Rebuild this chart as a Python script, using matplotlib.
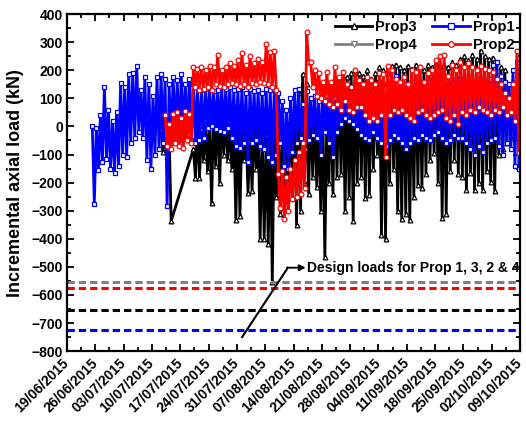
import numpy as np
import matplotlib
matplotlib.use("Agg")
import matplotlib.pyplot as plt
from matplotlib.ticker import MultipleLocator

plt.rcParams["font.family"] = ["Liberation Sans", "DejaVu Sans"]
plt.rcParams["font.weight"] = "bold"

# day 0 = 19/06/2015, one daily (high, low) pair per day, in kN
date_labels = ["19/06/2015", "26/06/2015", "03/07/2015", "10/07/2015", "17/07/2015",
               "24/07/2015", "31/07/2015", "07/08/2015", "14/08/2015", "21/08/2015",
               "28/08/2015", "04/09/2015", "11/09/2015", "18/09/2015", "25/09/2015",
               "02/10/2015", "09/10/2015"]

prop1_start = 6
prop1_hi = [0, -5, 40, 140, 60, 20, 50, 155, 140, 185,
            190, 215, 130, 175, 150, 110, 175, 185, 170, 150,
            175, 165, 185, 150, 170, 150, 140, 130, 135, 140,
            125, 130, 145, 135, 140, 130, 135, 140, 120, 135,
            125, 130, 120, 135, 130, 135, 120, 90, 60, 100,
            130, 135, 80, 125, 100, 110, 90, 125, 110, 120,
            100, 110, 120, 130, 140, 150, 130, 150, 160, 140,
            150, 160, 150, 140, 170, 180, 160, 150, 140, 160,
            150, 140, 150, 160, 140, 150, 160, 150, 140, 150,
            160, 170, 160, 150, 160, 150, 140, 150, 170, 220,
            230, 180, 160, 150, 200, 230]
prop1_lo = [-275, -155, -125, -115, -150, -165, -140, -100, -110, -60,
            -40, -20, -40, -120, -150, -100, -80, -60, -285, -60,
            -40, -50, -30, -40, -50, -60, -50, -40, -5, 0,
            -10, -15, -20, -5, -40, -70, -75, -60, -125, -60,
            -50, -70, -80, -110, -125, -100, -60, -140, -150, -90,
            -60, -40, -80, -50, -30, -40, -100, -20, -60, -110,
            -20, 10, 30, 20, 10, -10, -30, -40, -50, -20,
            -40, -60, -70, -50, -30, -40, -60, -80, -60, -40,
            -50, -30, -40, -50, -30, -20, -40, -60, -50, -30,
            -40, -40, -60, -80, -100, -70, -90, -60, -50, -40,
            -70, -100, -60, -80, -140, -150]

prop2_start = 24
prop2_hi = [40, 10, 45, 50, 30, 55, 45, 210, 205, 210,
            200, 215, 210, 255, 200, 210, 225, 215, 235, 260,
            220, 250, 225, 240, 230, 295, 265, 270, -170, -160,
            -180, -150, -120, -90, -60, 335, 230, 200, 190, 160,
            195, 160, 210, 175, 195, 150, 140, 200, 165, 150,
            175, 165, 150, 190, 185, 215, 200, 170, 160, 175,
            150, 200, 195, 210, 160, 190, 200, 235, 250, 255,
            180, 220, 200, 230, 210, 225, 210, 200, 215, 205,
            200, 195, 170, 150, 120, 100, 150, 270]
prop2_lo = [-70, -80, -60, -70, -75, -50, -60, 140, 130, 135,
            140, 130, 150, 145, 140, 150, 155, 150, 145, 150,
            140, 155, 150, 160, 155, 150, 140, 130, -290, -330,
            -300, -260, -250, -240, -220, 230, 140, 110, 100, 90,
            80, 70, 80, 60, 90, 60, 50, 70, 70, 40,
            20, 30, 20, 40, -110, 40, 60, 50, 60, 40,
            30, 20, 50, 60, 40, 30, 40, 50, 60, 30,
            20, 40, 10, 50, 40, 60, 50, 70, 60, 50,
            40, 60, 50, 70, 40, 50, 20, -95]

nan = np.nan
prop3_start = 23
prop3_hi = [-10, -20, -30, nan, nan, nan, nan, nan, -80, 20,
            -10, 10, 30, 50, 70, 60, 40, 20, 10, 30,
            10, 0, -20, 20, 0, -10, -30, 20, 10, -20,
            0, -10, 20, 60, 120, 185, 150, 100, 60, 30,
            40, 50, 120, 160, 170, 180, 175, 190, 200, 190,
            180, 200, 170, 190, 210, 200, 190, 215, 220, 210,
            200, 215, 205, 220, 210, 200, 220, 210, 225, 215,
            220, 210, 230, 220, 240, 250, 235, 255, 240, 270,
            250, 240, 245, 230, 210, 200, 150, 160, 120]
prop3_lo = [-90, -110, -337, nan, nan, nan, nan, nan, -185, -185,
            -120, -160, -274, -140, -202, -100, -120, -150, -334, -320,
            -120, -238, -230, -150, -400, -400, -420, -555, -250, -310,
            -290, -200, -180, -350, -300, -200, -240, -180, -215, -300,
            -465, -200, -240, -180, -170, -300, -250, -335, -200, -180,
            -255, -245, -150, -100, -385, -400, -200, -150, -300, -330,
            -310, -334, -250, -210, -220, -168, -120, -95, -200, -325,
            -310, -160, -120, -168, -180, -226, -165, -226, -200, -225,
            -160, -197, -230, -100, -80, -60, -40, -30, 0]

prop4_start = 23
prop4_hi = [5, 0]
prop4_lo = [-30, -40]

# design loads (kN)
design_loads = {"Prop4": -555, "Prop2": -575, "Prop3": -655, "Prop1": -725}


def zigzag(start, hi, lo):
    days = np.arange(start, start + len(hi))
    x = np.column_stack([days + 0.25, days + 0.75]).ravel()
    y = np.column_stack([hi, lo]).ravel().astype(float)
    keep = ~np.isnan(y)
    return x[keep], y[keep]


fig = plt.figure(figsize=(5.26, 4.21), dpi=100)
ax = fig.add_axes([0.1274, 0.166, 0.8612, 0.8005])

style = dict(lw=2.0, ms=3.4, mfc="white", mew=0.9)
x4, y4 = zigzag(prop4_start, prop4_hi, prop4_lo)
l4, = ax.plot(x4, y4, color="#808080", marker="v", mec="#808080", label="Prop4", **style)
x3, y3 = zigzag(prop3_start, prop3_hi, prop3_lo)
l3, = ax.plot(x3, y3, color="black", marker="^", mec="black", label="Prop3", **style)
x1, y1 = zigzag(prop1_start, prop1_hi, prop1_lo)
l1, = ax.plot(x1, y1, color="#0000ff", marker="s", mec="#0000ff", label="Prop1", **style)
x2, y2 = zigzag(prop2_start, prop2_hi, prop2_lo)
l2, = ax.plot(x2, y2, color="#ff0000", marker="o", mec="#ff0000", label="Prop2", **style)

line_colors = {"Prop4": "#808080", "Prop2": "#ff0000", "Prop3": "black", "Prop1": "#0000ff"}
for name, val in design_loads.items():
    ax.axhline(val, color=line_colors[name], lw=2.2, dashes=(2.4, 1.3))

# annotation for the design loads
ax.plot([43.3, 54.6], [-750, -503], color="black", lw=1.5)
ax.annotate("", xy=(59.0, -503), xytext=(54.4, -503),
            arrowprops=dict(arrowstyle="-|>", color="black", lw=1.3,
                            mutation_scale=9, shrinkA=0, shrinkB=0))
ax.text(59.4, -503, "Design loads for Prop 1, 3, 2 & 4", va="center",
        ha="left", fontsize=10, fontweight="bold")

ax.set_xlim(0, 112)
ax.set_ylim(-800, 400)
ax.set_xticks(np.arange(0, 113, 7))
ax.set_xticklabels(date_labels, rotation=45, ha="right", va="center",
                   rotation_mode="anchor", fontsize=10, fontweight="bold")
ax.xaxis.set_minor_locator(MultipleLocator(3.5))
ax.yaxis.set_major_locator(MultipleLocator(100))
ax.yaxis.set_minor_locator(MultipleLocator(50))
for lab in ax.get_yticklabels():
    lab.set_fontsize(10)
    lab.set_fontweight("bold")
ax.set_ylabel("Incremental axial load (kN)", fontsize=13, fontweight="bold", labelpad=5.5)

ax.tick_params(which="both", direction="in", top=True, right=True, width=1.3)
ax.tick_params(which="major", length=5)
ax.tick_params(axis="y", which="major", pad=3)
ax.tick_params(axis="x", which="major", pad=7)
ax.tick_params(which="minor", length=3)
for s in ax.spines.values():
    s.set_linewidth(1.6)

leg = ax.legend(handles=[l3, l4, l1, l2], ncol=2, loc="upper right",
                bbox_to_anchor=(1.0, 1.0), frameon=False, numpoints=1,
                handlelength=2.6, handletextpad=0.15, columnspacing=1.1,
                labelspacing=0.3, borderaxespad=0.2, borderpad=0.2,
                prop={"weight": "bold", "size": 10.5})
for h in leg.legend_handles:
    h.set_markersize(4)

fig.savefig("out.png", dpi=100)
